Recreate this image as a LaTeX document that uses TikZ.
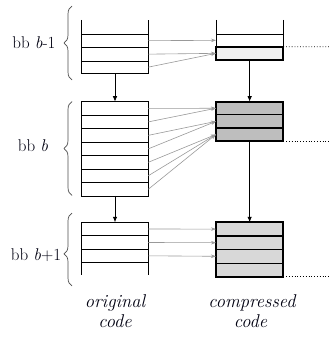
\documentclass[tikz,border=0pt]{standalone}
\usetikzlibrary{arrows.meta,decorations.pathreplacing}
\definecolor{fillA}{HTML}{F0F0F0}
\definecolor{fillB}{HTML}{BEBEBE}
\definecolor{fillC}{HTML}{D8D8D8}
\definecolor{mapgray}{HTML}{999999}
\definecolor{txt}{HTML}{000010}
\begin{document}
\begin{tikzpicture}[x=1pt,y=-1pt,
  thinl/.style={line width=0.6pt},
  thickl/.style={line width=1.2pt},
  boxl/.style={line width=1.7pt},
  row/.style={minimum width=66.6pt, inner sep=0pt, outer sep=0pt},
  flow/.style={-{Latex[length=5.5pt,width=4.5pt]}, line width=0.8pt},
  mapar/.style={-{Stealth[length=5pt,width=3.5pt]}, draw=mapgray, line width=0.6pt},
  dots/.style={dotted, line width=0.8pt},
  brc/.style={decorate, decoration={brace, amplitude=8pt}, draw=black!70, line width=0.7pt},
  lbl/.style={text=txt, font=\fontsize{17}{20}\selectfont, inner sep=0pt},
  capt/.style={text=txt, font=\itshape\fontsize{18.5}{22}\selectfont, inner sep=0pt, anchor=base}
]
\useasboundingbox (0,0) rectangle (329,337);

% ---------- top section (bb b-1) ----------
\node[row, minimum height=13.3pt] (ta1) at (115,40.65) {};
\node[row, minimum height=13.7pt] (ta2) at (115,54.15) {};
\node[row, minimum height=12.3pt] (ta3) at (115,67.15) {};
\draw[thinl] (81.7,20) -- (81.7,73.3) -- (148.3,73.3) -- (148.3,20);
\draw[thinl] (81.7,34) -- (148.3,34);
\draw[thickl] (81.7,47.3) -- (148.3,47.3);
\draw[thinl] (81.7,61) -- (148.3,61);

\node[row, minimum width=67.3pt, minimum height=12.7pt] (tb1) at (249.65,40.35) {};
\node[row, minimum width=67.3pt, minimum height=13.3pt, fill=fillA] (tb2) at (249.65,53.35) {};
\draw[thinl] (216,20) -- (216,46.7);
\draw[thinl] (283.3,20) -- (283.3,46.7);
\draw[thinl] (216,34) -- (283.3,34);
\draw[boxl] (216,46.7) rectangle (283.3,60);

% ---------- middle section (bb b) ----------
\foreach \i/\y in {1/108.45,2/121.9,3/135.35,4/148.85,5/162.3,6/175.75,7/189.25}
  \node[row, minimum height=13.45pt] (ma\i) at (115,\y) {};
\draw[thinl] (81.7,101.7) rectangle (148.3,196);
\draw[thickl] (81.7,115.2) -- (148.3,115.2);
\draw[thinl] (81.7,128.6) -- (148.3,128.6);
\draw[thickl] (81.7,142.1) -- (148.3,142.1);
\draw[thinl] (81.7,155.6) -- (148.3,155.6);
\draw[thinl] (81.7,169) -- (148.3,169);
\draw[thickl] (81.7,182.5) -- (148.3,182.5);

\foreach \i/\y in {1/108.25,2/121.35,3/134.45}
  \node[row, minimum width=67.3pt, minimum height=13.1pt, fill=fillB] (mb\i) at (249.65,\y) {};
\draw[thickl] (216,114.8) -- (283.3,114.8);
\draw[thickl] (216,127.9) -- (283.3,127.9);
\draw[boxl] (216,101.7) rectangle (283.3,141);

% ---------- bottom section (bb b+1) ----------
\node[row, minimum height=13.4pt] (ba1) at (115,229) {};
\node[row, minimum height=13.6pt] (ba2) at (115,242.5) {};
\node[row, minimum height=13pt] (ba3) at (115,255.8) {};
\draw[thinl] (81.7,222.3) -- (81.7,275);
\draw[thinl] (148.3,222.3) -- (148.3,275);
\draw[thinl] (81.7,222.3) -- (148.3,222.3);
\draw[thickl] (81.7,235.7) -- (148.3,235.7);
\draw[thickl] (81.7,249.3) -- (148.3,249.3);
\draw[thinl] (81.7,262.3) -- (148.3,262.3);

\foreach \i/\y in {1/229.1,2/242.7,3/256.3,4/269.9}
  \node[row, minimum width=67.3pt, minimum height=13.6pt, fill=fillC] (bb\i) at (249.65,\y) {};
\draw[thickl] (216,235.9) -- (283.3,235.9);
\draw[thickl] (216,249.5) -- (283.3,249.5);
\draw[thickl] (216,263.1) -- (283.3,263.1);
\draw[boxl] (216,222.3) rectangle (283.3,276.7);

% ---------- mapping arrows ----------
\draw[mapar] (ta1.east) -- (tb1.west);
\draw[mapar] (ta2.east) -- (tb2.west);
\draw[mapar] (ta3.east) -- (tb2.west);

\draw[mapar] (ma1.east) -- (mb1.west);
\draw[mapar] (ma2.east) -- (mb1.west);
\draw[mapar] (ma3.east) -- (mb2.west);
\draw[mapar] (ma4.east) -- (mb2.west);
\draw[mapar] (ma5.east) -- (mb3.west);
\draw[mapar] (ma6.east) -- (mb3.west);
\draw[mapar] (ma7.east) -- (mb3.west);

\draw[mapar] (ba1.east) -- (bb1.west);
\draw[mapar] (ba2.east) -- (bb2.west);
\draw[mapar] (ba3.east) -- (bb3.west);

% ---------- control flow arrows ----------
\draw[flow] (ta3.south) -- (ma1.north);
\draw[flow] (tb2.south) -- (mb1.north);
\draw[flow] (ma7.south) -- (ba1.north);
\draw[flow] (mb3.south) -- (bb1.north);

% ---------- dotted continuations ----------
\coordinate (d1) at (329,46.7);
\coordinate (d2) at (329,141);
\coordinate (d3) at (329,276.7);
\draw[dots] (tb2.north east) -- (d1);
\draw[dots] (mb3.south east) -- (d2);
\draw[dots] (bb4.south east) -- (d3);

% ---------- braces and labels ----------
\draw[brc] (72,80) -- (72,6);
\draw[brc] (72,195.5) -- (72,101.5);
\draw[brc, decoration={brace, amplitude=8pt, aspect=0.44}] (72,286) -- (72,213);

\node[lbl] (l1) at (34,43) {bb \textit{b}-1};
\node[lbl] (l2) at (33,146) {bb \textit{b}};
\node[lbl] (l3) at (36,255) {bb \textit{b}+1};

\node[capt] (c1) at (115,307) {original};
\node[capt] (c2) at (115,327) {code};
\node[capt] (c3) at (252,307) {compressed};
\node[capt] (c4) at (250.5,327) {code};
\end{tikzpicture}
\end{document}
